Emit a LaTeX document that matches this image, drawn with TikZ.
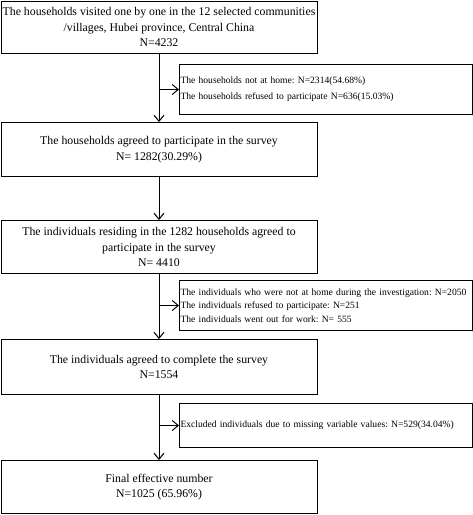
\documentclass[tikz,border=0pt]{standalone}
\usepackage{fontspec}
\setmainfont{Liberation Serif}
\usetikzlibrary{arrows.meta}
\tikzset{
  x=1pt, y=1pt,
  mainbox/.style={draw, line width=1pt, anchor=north west, minimum width=316pt, inner sep=0pt, align=center, font=\fontsize{11.8}{15.5}\selectfont},
  sidebox/.style={draw, line width=1pt, anchor=north west, minimum width=293pt, inner sep=0pt, text width=291pt, align=left, font=\frenchspacing\fontsize{9.6}{16}\selectfont},
  flow/.style={line width=1pt, -{Straight Barb[length=6pt,width=10pt,line width=1pt]}},
}
\begin{document}
\begin{tikzpicture}
\useasboundingbox (0,0) rectangle (473,-515);
\node[mainbox, minimum height=52pt] (b1) at (0.5,-0.5) {The households visited one by one in the 12 selected communities\\/villages, Hubei province, Central China\\N=4232};
\node[sidebox, minimum height=50pt] (s1) at (179,-64) {The households not at home: N=2314(54.68\%)\\The households refused to participate N=636(15.03\%)};
\node[mainbox, minimum height=54pt] (b2) at (0.5,-122) {The households agreed to participate in the survey\\N= 1282(30.29\%)};
\node[mainbox, minimum height=53pt] (b3) at (0.5,-220) {The individuals residing in the 1282 households agreed to\\participate in the survey\\N= 4410};
\node[sidebox, minimum height=50pt, font=\frenchspacing\fontsize{9.6}{13.5}\selectfont] (s2) at (179,-280) {\mbox{The individuals who were not at home during the investigation: N=2050}\\The individuals refused to participate: N=251\\The individuals went out for work: N= 555};
\node[mainbox, minimum height=55pt] (b4) at (0.5,-339) {The individuals agreed to complete the survey\\N=1554};
\node[sidebox, minimum height=44pt] (s3) at (179,-403) {Excluded individuals due to missing variable values: N=529(34.04\%)};
\node[mainbox, minimum height=53pt] (b5) at (0.5,-460) {Final effective number\\N=1025 (65.96\%)};
\coordinate (j1) at (b1.south |- s1.west);
\coordinate (j2) at (b3.south |- s2.west);
\coordinate (j3) at (b4.south |- s3.west);
\draw[flow] (b1.south) -- (b2.north);
\draw[flow] (j1) -- (s1.west);
\draw[flow] (b2.south) -- (b3.north);
\draw[flow] (b3.south) -- (b4.north);
\draw[flow] (j2) -- (s2.west);
\draw[flow] (b4.south) -- (b5.north);
\draw[flow] (j3) -- (s3.west);
\end{tikzpicture}
\end{document}
